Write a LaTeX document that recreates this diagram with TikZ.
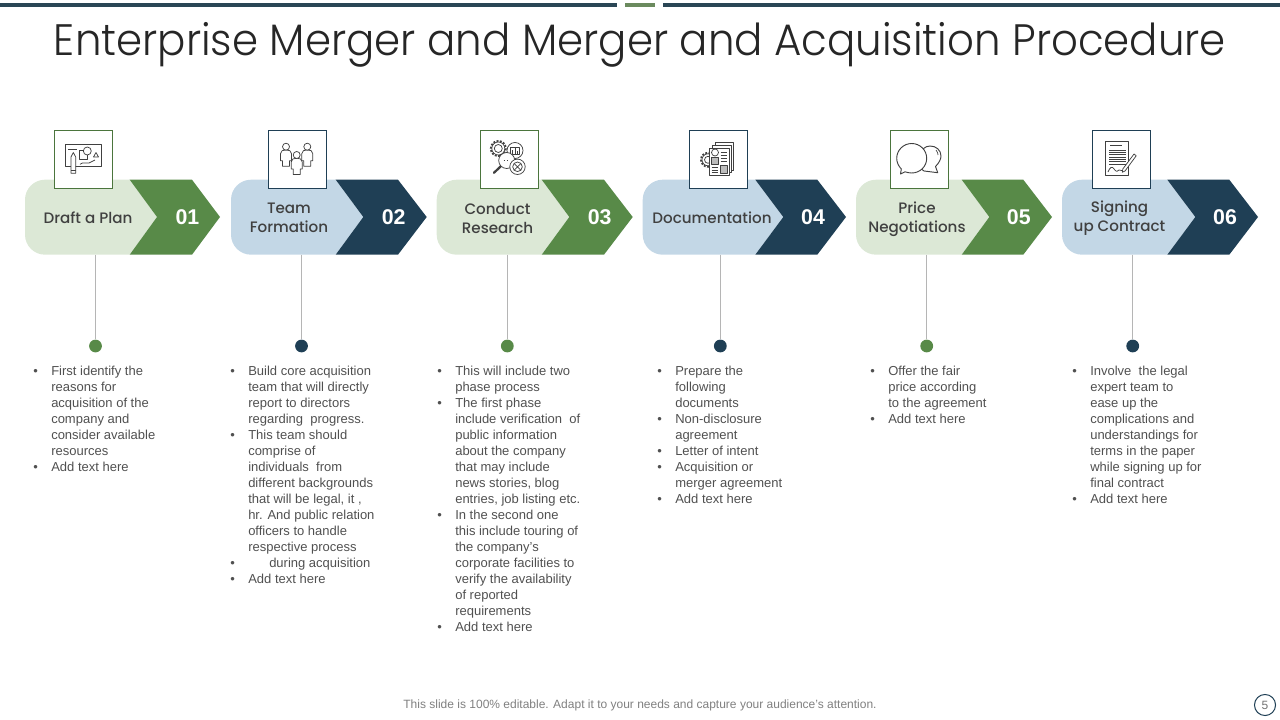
\documentclass[tikz,border=0pt]{standalone}
\usepackage{fontspec}
\setmainfont{Liberation Sans}
\newfontfamily\gothic{Poppins}[UprightFont=* Light,BoldFont=* Medium]
\newfontfamily\gothicmed{Poppins}[UprightFont=* Medium]
\definecolor{gdark}{HTML}{588A48}
\definecolor{ndark}{HTML}{1F3F55}
\definecolor{glight}{HTML}{DCE8D6}
\definecolor{nlight}{HTML}{C3D7E6}
\definecolor{ink}{HTML}{404040}
\definecolor{bodyink}{HTML}{505050}
\definecolor{stem}{HTML}{B5B5B5}
\definecolor{barnavy}{HTML}{2A4655}
\definecolor{bargreen}{HTML}{6B8A5E}
\tikzset{
  iconbox/.style={draw=#1,fill=white,line width=0.8pt,minimum width=43.8pt,minimum height=43.8pt,inner sep=0pt},
  steplabel/.style={font=\gothicmed\fontsize{11.35}{14.25}\selectfont,text=ink,align=center,inner sep=0pt},
  stepnum/.style={font=\fontsize{16}{18}\selectfont\bfseries,text=white,inner sep=0pt},
  stemline/.style={draw=stem,line width=0.75pt},
  stepdot/.style={circle,fill=#1,minimum size=9.6pt,inner sep=0pt},
  bodytext/.style={anchor=north west,inner sep=0pt,text=bodyink,font=\fontsize{9.75}{12}\selectfont},
  ic/.style={draw=ink,line width=0.55pt,line join=round,fill=none},
  icf/.style={draw=ink,line width=0.55pt,line join=round,fill=white}
}
% id, left, chevron TL, TR, tip, notch, stem x, light, dark
\newcommand{\chevgroup}[9]{%
  \fill[#8] (#2+20,179.7) -- (#3,179.7) -- (#6,217) -- (#3,254.7) -- (#2+20,254.7)
     .. controls (#2+9,254.7) and (#2,245.7) .. (#2,234.7) -- (#2,199.7)
     .. controls (#2,188.7) and (#2+9,179.7) .. (#2+20,179.7) -- cycle;
  \fill[#9] (#3,179.7) -- (#4,179.7) -- (#5,217) -- (#4,254.7) -- (#3,254.7) -- (#6,217) -- cycle;
  \coordinate (top#1) at (#7,254.7);
  \node[stepdot=#9] (dot#1) at (#7,346) {};
  \draw[stemline] (top#1) -- (dot#1);
}
\newcommand{\gearic}[3]{%
  \draw[ink,line width=1.4pt,dash pattern=on 1.4pt off 1.1pt] (#1,#2) circle[radius=#3];
  \draw[icf] (#1,#2) circle[radius=#3-1];
  \draw[ic] (#1,#2) circle[radius=#3-3.5];
}
\begin{document}
\begin{tikzpicture}[x=0.75pt,y=-0.75pt]
\useasboundingbox (0,0) rectangle (1280,720);
% top rule
\coordinate (barA) at (0,5); \coordinate (barB) at (617,5);
\coordinate (barC) at (663,5); \coordinate (barD) at (1280,5);
\coordinate (barE) at (625,5); \coordinate (barF) at (655,5);
\draw[barnavy,line width=2.3pt] (barA) -- (barB);
\draw[barnavy,line width=2.3pt] (barC) -- (barD);
\draw[bargreen,line width=2.3pt] (barE) -- (barF);
% title
\node[font=\gothic\fontsize{33}{40}\selectfont,text=black!85,inner sep=0pt] (title) at (640,45) {\scalebox{0.953}[1]{Enterprise Merger and Merger and Acquisition Procedure}};

\chevgroup{1}{25}{129.7}{192}{220}{157}{95.5}{glight}{gdark}
\chevgroup{2}{231}{335.7}{398}{426.7}{363.3}{301.5}{nlight}{ndark}
\chevgroup{3}{436.7}{541.7}{604}{632.7}{569.3}{507.3}{glight}{gdark}
\chevgroup{4}{642.7}{755.3}{817.3}{846}{783.3}{720.3}{nlight}{ndark}
\chevgroup{5}{856}{961.7}{1023.3}{1052}{989.3}{926.7}{glight}{gdark}
\chevgroup{6}{1062}{1167.3}{1229.3}{1258}{1195.3}{1132.7}{nlight}{ndark}

\node[steplabel] (lab1) at (88,217.5) {Draft a Plan};
\node[steplabel] (lab2) at (289,218.2) {Team\\Formation};
\node[steplabel] (lab3) at (497.5,218.2) {Conduct\\Research};
\node[steplabel] (lab4) at (712,217.5) {Documentation};
\node[steplabel] (lab5) at (917,219) {Price\\Negotiations};
\node[steplabel] (lab6) at (1119.5,218.5) {Signing\\up Contract};

\node[stepnum] (num1) at (187.5,217.5) {01};
\node[stepnum] (num2) at (393.7,217.5) {02};
\node[stepnum] (num3) at (599.7,217.5) {03};
\node[stepnum] (num4) at (813,217.5) {04};
\node[stepnum] (num5) at (1018.8,217.5) {05};
\node[stepnum] (num6) at (1225,217.5) {06};

\node[iconbox=gdark!85!black] (box1) at (83.5,159.5) {};
\node[iconbox=ndark] (box2) at (297.5,159.5) {};
\node[iconbox=gdark!85!black] (box3) at (509.5,159.5) {};
\node[iconbox=ndark] (box4) at (718.5,159.5) {};
\node[iconbox=gdark!85!black] (box5) at (919.5,159.5) {};
\node[iconbox=ndark] (box6) at (1121.5,159.5) {};

% icon 1: plan board
\draw[ic,line width=0.7pt] (65,144.3) rectangle (101.7,166.7);
\draw[ic] (68.3,149.3) -- (76.7,149.3);
\draw[icf] (79.3,150.7) rectangle (87.7,159.3);
\draw[icf] (87.3,151) circle[radius=4];
\draw[ic] (93.5,157) -- (96,152.5) -- (98.5,157) -- cycle;
\draw[ic] (80,164.3) .. controls (84,161) and (86,164.5) .. (89,163) .. controls (91,162) and (93,161) .. (95,160);
\draw[icf] (71,157) -- (73.3,152.5) -- (75.7,157) -- (75.7,173.3) -- (71,173.3) -- cycle;
\draw[ic] (71,170) -- (75.7,170);

% icon 2: team
\foreach \cx/\cy in {286/146.7,307.3/146.7,296.7/155}{
  \draw[icf] (\cx-5.5,\cy+14) -- (\cx-5.5,\cy+7) .. controls (\cx-5.5,\cy+4) and (\cx-3,\cy+3.2) .. (\cx,\cy+3.2)
     .. controls (\cx+3,\cy+3.2) and (\cx+5.5,\cy+4) .. (\cx+5.5,\cy+7) -- (\cx+5.5,\cy+14) -- (\cx+3.5,\cy+14) -- (\cx+3.5,\cy+19.5) -- (\cx-3.5,\cy+19.5) -- (\cx-3.5,\cy+14) -- cycle;
  \draw[icf] (\cx,\cy) circle[radius=3.5];
}

% icon 3: research
\gearic{498.3}{148.5}{7.5}
\draw[icf] (515,150.5) circle[radius=8];
\draw[ic] (510.5,147) rectangle (519.5,154.5);
\draw[ic] (512.5,154.5) -- (512.5,150.5) (515,154.5) -- (515,148.5) (517.5,154.5) -- (517.5,151);
\draw[ink,line width=1.7pt,line cap=round] (494,172.8) -- (501,166);
\draw[icf] (506.7,160.5) circle[radius=8];
\draw[ic,dotted] (503.5,160.5) -- (510,160.5);
\draw[icf] (517.5,166.8) circle[radius=7.7];
\draw[ic] (517.5,166.8) circle[radius=4.8];
\draw[ic] (514.3,163.6) -- (520.7,170) (520.7,163.6) -- (514.3,170);

% icon 4: documents
\gearic{708}{159.8}{7}
\draw[icf] (715,142.3) rectangle (733.3,170);
\draw[icf] (712,145.3) rectangle (731,172.5);
\draw[icf,line width=0.7pt] (709.3,148.3) rectangle (729.3,175);
\draw[ic] (715,152.5) circle[radius=3.5];
\draw[ic,fill=ink!35] (711.5,157.5) rectangle (718,164);
\draw[ic,fill=ink!35] (720.5,165.5) rectangle (727,173);
\draw[ic] (720.5,152) -- (727,152) (720.5,155) -- (727,155) (720.5,158) -- (727,158) (720.5,161) -- (727,161)
          (711.5,167) -- (718,167) (711.5,170) -- (718,170) (711.5,172.5) -- (718,172.5);

% icon 5: speech bubbles
\draw[icf,line width=0.7pt] (924,171) -- (937.7,172.7) -- (935.5,166.5) .. controls (939,163) and (941,159) .. (941,156)
   .. controls (941,150) and (936,146) .. (930,146) .. controls (925,146) and (921,150) .. (919,155) -- (916,165) -- cycle;
\draw[ink,line width=0.5pt] (936,150) .. controls (937.5,152) and (938,153.5) .. (938,155);
\draw[icf,line width=0.7pt] (900.5,174) -- (905,171.8) .. controls (907,172.5) and (909.5,173) .. (911.7,173)
   .. controls (920,173) and (926.7,166.4) .. (926.7,158.3) .. controls (926.7,150.2) and (920,143.5) .. (911.7,143.5)
   .. controls (903.4,143.5) and (896.7,150.2) .. (896.7,158.3) .. controls (896.7,162.5) and (898.5,166) .. (901.3,169) -- cycle;

% icon 6: contract
\draw[icf,line width=0.7pt] (1105,141.3) rectangle (1128.3,175);
\draw[ic] (1110,145) -- (1121.5,145);
\foreach \ly in {150,152.3,154.6,156.9,159.2,161.5,164.5}{\draw[ic] (1109,\ly) -- (1126,\ly);}
\draw[ic] (1108,172) .. controls (1110,167) and (1112,166) .. (1114,169) .. controls (1116,172) and (1118,172) .. (1119,170) -- (1124,171);
\draw[icf] (1134,154) -- (1136.2,155.8) -- (1125,171) -- (1122.3,172.2) -- (1122.8,169) -- cycle;

% body text
\node[bodytext] (text1) at (33,364) {\begin{tabular}{@{}p{13.5pt}@{}l@{}}
•&First identify the\\ &reasons for\\ &acquisition of the\\ &company and\\ &consider available\\ &resources\\
•&Add text here\end{tabular}};
\node[bodytext] (text2) at (230,364) {\begin{tabular}{@{}p{13.5pt}@{}l@{}}
•&Build core acquisition\\ &team that will directly\\ &report to directors\\ &regarding\ \ progress.\\
•&This team should\\ &comprise of\\ &individuals\ \ from\\ &different backgrounds\\ &that will be legal, it ,\\ &hr. And public relation\\ &officers to handle\\ &respective process\\
•&\hspace*{15.75pt}during acquisition\\
•&Add text here\end{tabular}};
\node[bodytext] (text3) at (437,364) {\begin{tabular}{@{}p{13.5pt}@{}l@{}}
•&This will include two\\ &phase process\\
•&The first phase\\ &include verification\ \ of\\ &public information\\ &about the company\\ &that may include\\ &news stories, blog\\ &entries, job listing etc.\\
•&In the second one\\ &this include touring of\\ &the company's\\ &corporate facilities to\\ &verify the availability\\ &of reported\\ &requirements\\
•&Add text here\end{tabular}};
\node[bodytext] (text4) at (657,364) {\begin{tabular}{@{}p{13.5pt}@{}l@{}}
•&Prepare the\\ &following\\ &documents\\
•&Non-disclosure\\ &agreement\\
•&Letter of intent\\
•&Acquisition or\\ &merger agreement\\
•&Add text here\end{tabular}};
\node[bodytext] (text5) at (870,364) {\begin{tabular}{@{}p{13.5pt}@{}l@{}}
•&Offer the fair\\ &price according\\ &to the agreement\\
•&Add text here\end{tabular}};
\node[bodytext] (text6) at (1072,364) {\begin{tabular}{@{}p{13.5pt}@{}l@{}}
•&Involve\ \ the legal\\ &expert team to\\ &ease up the\\ &complications and\\ &understandings for\\ &terms in the paper\\ &while signing up for\\ &final contract\\
•&Add text here\end{tabular}};

% footer
\node[inner sep=0pt,text=black!50,font=\fontsize{9}{11}\selectfont] (foot) at (640,705.5) {This slide is 100\% editable. Adapt it to your needs and capture your audience's attention.};
\node[circle,draw=ndark,line width=0.75pt,minimum size=15.8pt,inner sep=0pt,text=black!55,font=\fontsize{9}{11}\selectfont] (page) at (1265,705) {5};
\end{tikzpicture}
\end{document}
